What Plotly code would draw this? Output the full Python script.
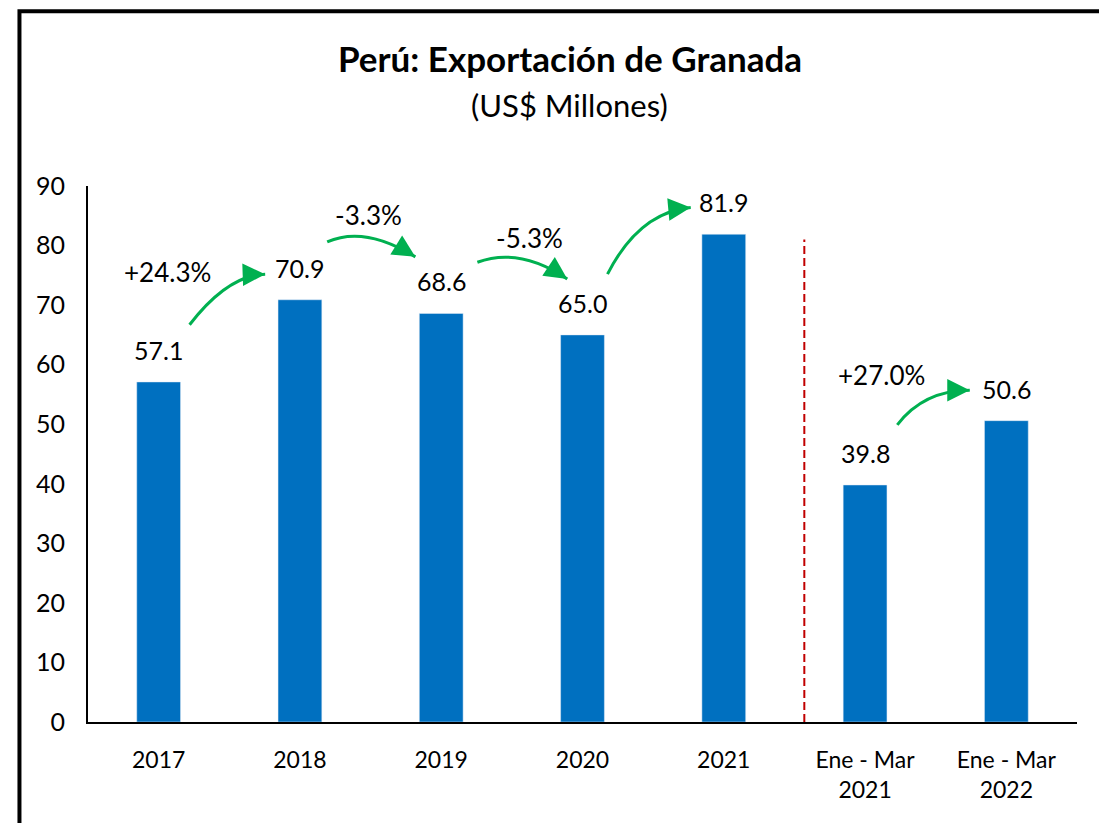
import plotly.graph_objects as go

# %% data
categories = ["2017", "2018", "2019", "2020", "2021", "Ene - Mar<br>2021", "Ene - Mar<br>2022"]
values = [57.1, 70.9, 68.6, 65.0, 81.9, 39.8, 50.6]
growth_labels = ["+24.3%", "-3.3%", "-5.3%", "+26.1%", "+27.0%"]

# %% layout helpers (arrow geometry in data units: start, control, tip, label position)
arrows = [
    ((0.219, 66.7), (0.488, 75.0), (0.754, 75.2), (0.064, 75.5)),
    ((1.193, 80.6), (1.456, 83.4), (1.817, 78.1), (1.485, 85.1)),
    ((2.256, 77.2), (2.553, 79.8), (2.892, 74.4), (2.623, 81.3)),
    ((3.177, 75.2), (3.400, 85.6), (3.766, 86.4), (3.337, 90.2)),
    ((5.228, 49.9), (5.416, 55.7), (5.741, 55.7), (5.119, 58.3)),
]

FONT = "Lato"
BLUE = "#0070C0"
GREEN = "#00B050"

x = list(range(len(categories)))

fig = go.Figure()
fig.add_trace(go.Bar(x=x, y=values, marker_color=BLUE, width=0.31, hoverinfo="skip"))

annotations = []
shapes = []

# value labels above bars
for xi, v in zip(x, values):
    annotations.append(dict(x=xi, y=v, text=f"{v:.1f}", showarrow=False, yanchor="bottom",
                            yshift=15, font=dict(family=FONT, size=25, color="black")))

# growth arrows
for (s, c, t, lab), txt in zip(arrows, growth_labels):
    shapes.append(dict(type="path", xref="x", yref="y",
                       path=f"M {s[0]},{s[1]} Q {c[0]},{c[1]} {t[0]},{t[1]}",
                       line=dict(color=GREEN, width=3)))
    tail = (t[0] - 0.25 * (t[0] - c[0]), t[1] - 0.25 * (t[1] - c[1]))
    annotations.append(dict(x=t[0], y=t[1], ax=tail[0], ay=tail[1], axref="x", ayref="y",
                            xref="x", yref="y", text="", showarrow=True, arrowhead=2,
                            arrowsize=1.5, arrowwidth=3, arrowcolor=GREEN, standoff=0))
    annotations.append(dict(x=lab[0], y=lab[1], text=txt, showarrow=False,
                            xanchor="center", yanchor="middle",
                            font=dict(family=FONT, size=26, color="black")))

# title and subtitle
annotations.append(dict(x=0.487, y=1.239, xref="paper", yref="paper", showarrow=False,
                        xanchor="center", yanchor="middle",
                        text="<b>Perú: Exportación de Granada</b>",
                        font=dict(family=FONT, size=35, color="black")))
annotations.append(dict(x=0.487, y=1.151, xref="paper", yref="paper", showarrow=False,
                        xanchor="center", yanchor="middle",
                        text="(US$ Millones)",
                        font=dict(family=FONT, size=31, color="black")))

# separator line between annual and quarterly data
shapes.append(dict(type="line", xref="x", yref="y", x0=4.57, x1=4.57, y0=0, y1=81,
                   line=dict(color="#C00000", width=2, dash="8px,4px")))

# outer frame
shapes.append(dict(type="rect", xref="paper", yref="paper", x0=-0.0693, x1=1.2, y0=-0.4, y1=1.326,
                   line=dict(color="black", width=4)))

fig.update_layout(
    width=1107, height=823,
    margin=dict(l=80, r=38, t=178, b=109),
    plot_bgcolor="white", paper_bgcolor="white",
    showlegend=False,
    annotations=annotations,
    shapes=shapes,
    xaxis=dict(range=[-0.5, 6.5], tickmode="array", tickvals=x, ticktext=categories,
               showline=True, linecolor="black", linewidth=2, showgrid=False, zeroline=False,
               ticks="", ticklabelstandoff=16, tickfont=dict(family=FONT, size=23, color="black")),
    yaxis=dict(range=[0, 90], dtick=10, showline=True, linecolor="black", linewidth=2,
               showgrid=False, zeroline=False, ticks="", ticklabelstandoff=16,
               tickfont=dict(family=FONT, size=25, color="black")),
)

fig.write_html("out.html")
